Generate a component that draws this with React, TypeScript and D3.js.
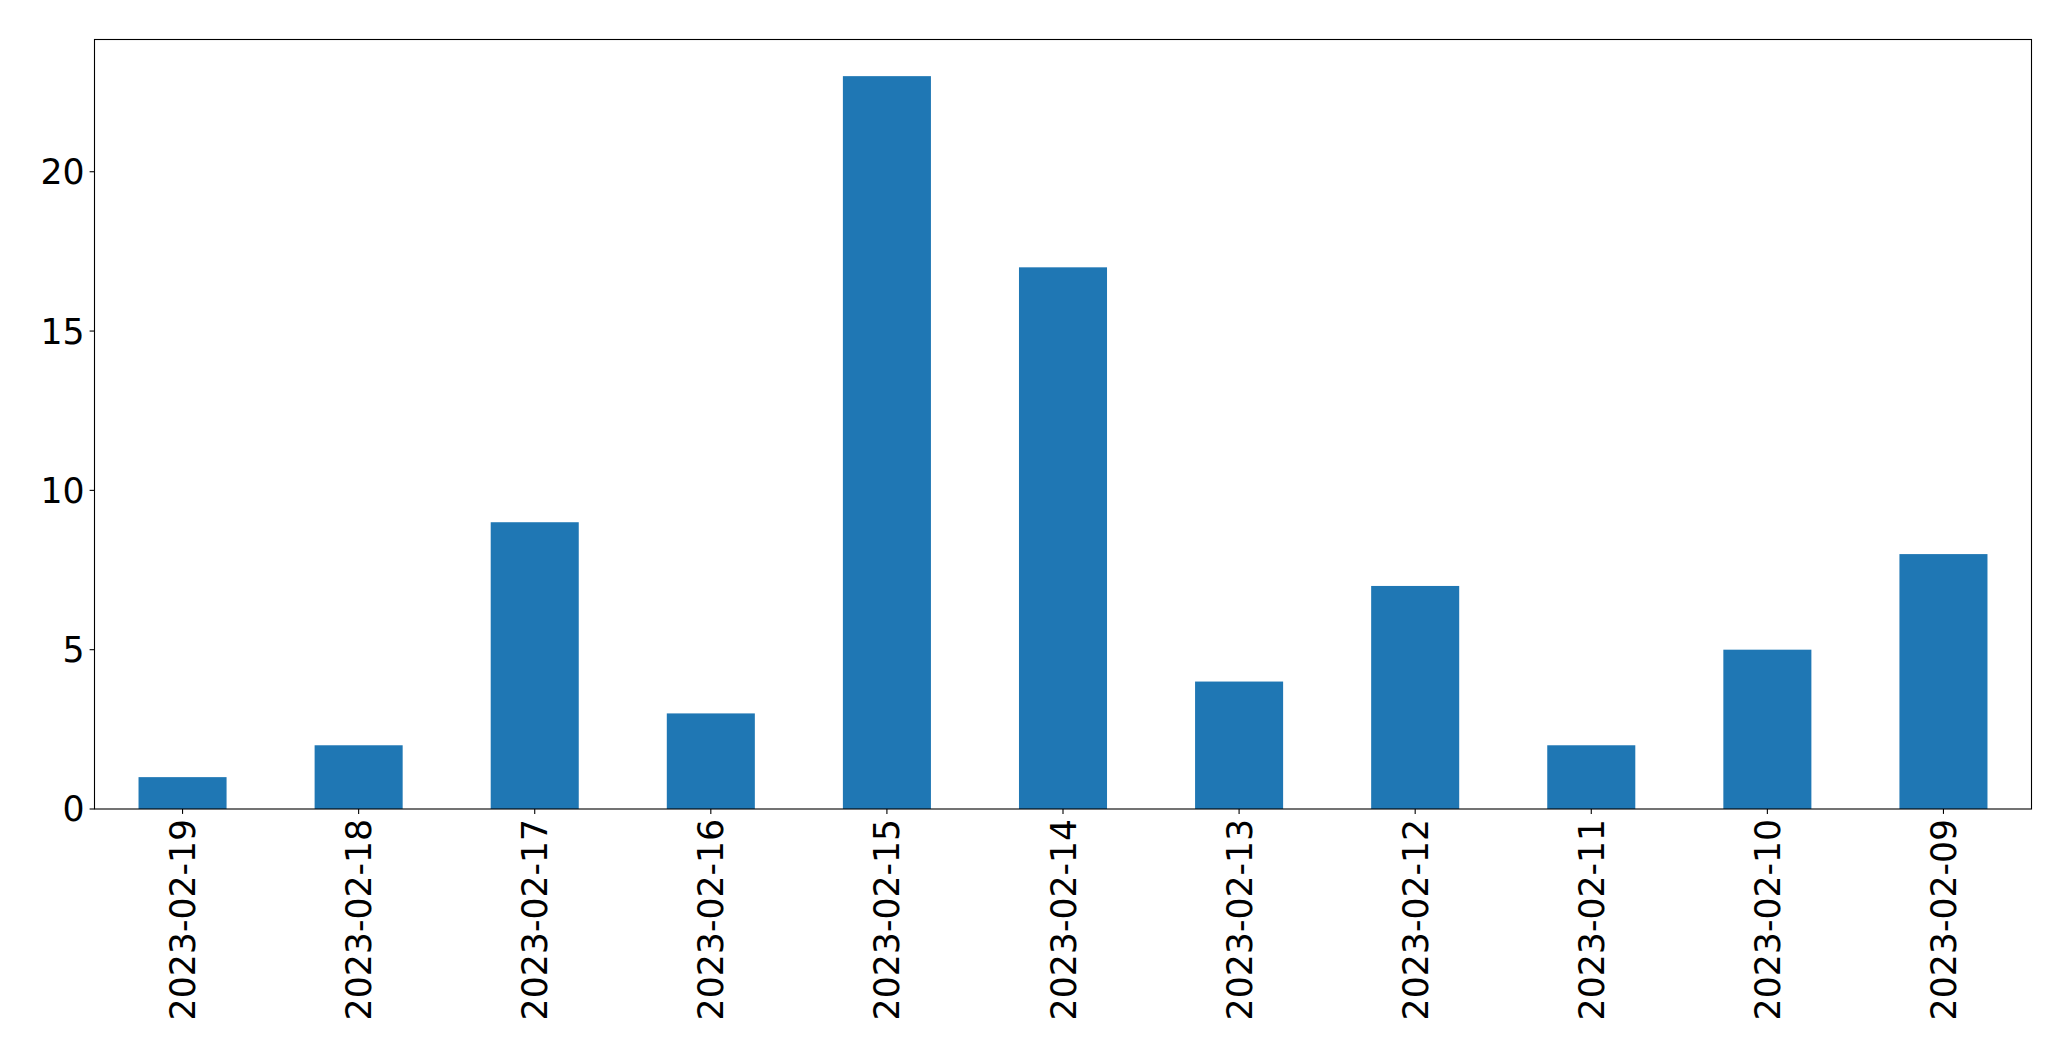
import React from "react";
import * as d3 from "d3";

const categories = ["2023-02-19","2023-02-18","2023-02-17","2023-02-16","2023-02-15","2023-02-14","2023-02-13","2023-02-12","2023-02-11","2023-02-10","2023-02-09"];
const values = [1, 2, 9, 3, 23, 17, 4, 7, 2, 5, 8];
const yTicks = [0, 5, 10, 15, 20];

const W = 2071, H = 1061;
const L = 94.5, R = 2031.5, T = 39.5, B = 809;
const FONT = "'DejaVu Sans', sans-serif";
const FS = 34.7;

export default function App() {
  const x = d3.scaleLinear().domain([-0.5, categories.length - 0.5]).range([L, R]);
  const y = d3.scaleLinear().domain([0, d3.max(values)! * 1.05]).range([B, T]);
  const bw = x(0.25) - x(-0.25);
  return (
    <svg width={W} height={H} style={{ position: "fixed", left: 0, top: 0, background: "#fff" }}>
      <rect x={0} y={0} width={W} height={H} fill="#fff" />
      {values.map((v, i) => (
        <rect key={i} x={x(i) - bw / 2} y={y(v)} width={bw} height={y(0) - y(v)} fill="#1f77b4" />
      ))}
      <rect x={L} y={T} width={R - L} height={B - T} fill="none" stroke="#000" strokeWidth={1.1} />
      {yTicks.map((t) => (
        <g key={t}>
          <line x1={L - 4.9} x2={L} y1={y(t)} y2={y(t)} stroke="#000" strokeWidth={1.1} />
          <text x={L - 9.8} y={y(t)} dy="0.36em" textAnchor="end" fontFamily={FONT} fontSize={FS} fill="#000">{t}</text>
        </g>
      ))}
      {categories.map((c, i) => (
        <g key={c}>
          <line x1={x(i)} x2={x(i)} y1={B} y2={B + 4.9} stroke="#000" strokeWidth={1.1} />
          <text transform={`translate(${x(i)},${B + 9.8}) rotate(-90)`} dy="0.36em" textAnchor="end" fontFamily={FONT} fontSize={FS} fill="#000">{c}</text>
        </g>
      ))}
    </svg>
  );
}
